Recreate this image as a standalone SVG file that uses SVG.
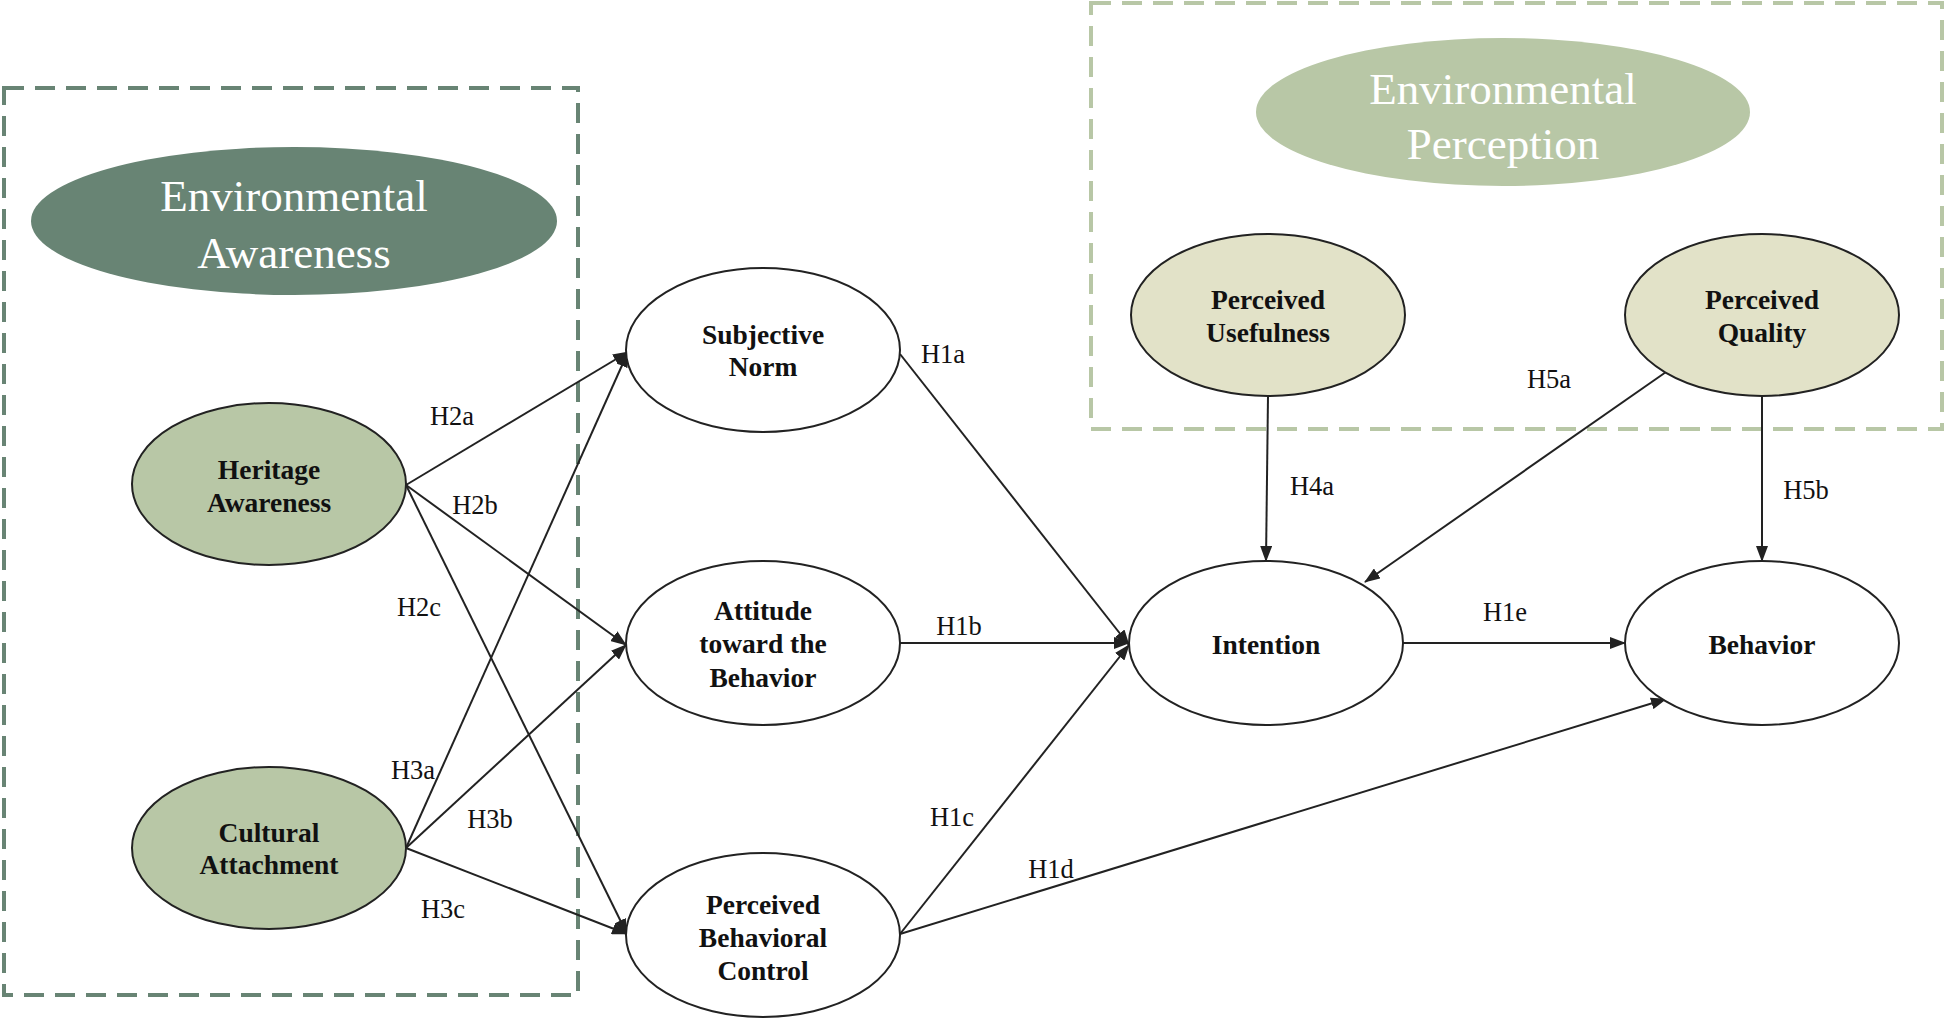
<svg xmlns="http://www.w3.org/2000/svg" width="1946" height="1020" viewBox="0 0 1946 1020">
<defs>
<marker id="arr" markerUnits="userSpaceOnUse" markerWidth="16" markerHeight="12" refX="15" refY="6" orient="auto">
<path d="M0,0 L16,6 L0,12 z" fill="#222"/>
</marker>
<style>
.node{fill:#fff;stroke:#222;stroke-width:2}
.green{fill:#b8c7a6;stroke:#222;stroke-width:2}
.beige{fill:#e2e2c8;stroke:#222;stroke-width:2}
.nt{font-family:"Liberation Serif","Times New Roman",serif;font-weight:bold;font-size:27.5px;fill:#111;text-anchor:middle}
.big{font-family:"Liberation Serif","Times New Roman",serif;font-size:45px;fill:#fff;text-anchor:middle}
.lbl{font-family:"Liberation Serif","Times New Roman",serif;font-size:26.5px;fill:#111;text-anchor:middle}
.conn line{stroke:#222;stroke-width:2;marker-end:url(#arr)}
.box{fill:none;stroke-width:4;stroke-dasharray:20 11}
</style>
</defs>
<rect width="1946" height="1020" fill="#fff"/>
<g id="awareness-group">
<rect class="box" x="4" y="88" width="574" height="907" stroke="#688474"/>
<ellipse cx="294" cy="221" rx="263" ry="74" fill="#688474"/>
<text class="big" x="294" y="211">Environmental</text>
<text class="big" x="294" y="268">Awareness</text>
</g>
<g id="perception-group">
<rect class="box" x="1091" y="3" width="851" height="426" stroke="#b8c7a6"/>
<ellipse cx="1503" cy="112" rx="247" ry="74" fill="#b8c7a6"/>
<text class="big" x="1503" y="104">Environmental</text>
<text class="big" x="1503" y="159">Perception</text>
</g>
<g id="connectors" class="conn">
<line x1="406" y1="485" x2="628" y2="352"/>
<line x1="406" y1="485" x2="626" y2="645"/>
<line x1="406" y1="485" x2="627" y2="934"/>
<line x1="406" y1="848" x2="628" y2="352"/>
<line x1="406" y1="848" x2="626" y2="645"/>
<line x1="406" y1="848" x2="627" y2="934"/>
<line x1="900" y1="354" x2="1129" y2="645"/>
<line x1="900" y1="643" x2="1129" y2="643"/>
<line x1="900" y1="934" x2="1129" y2="645"/>
<line x1="900" y1="934" x2="1666" y2="699"/>
<line x1="1403" y1="643" x2="1625" y2="643"/>
<line x1="1268" y1="396" x2="1266" y2="561"/>
<line x1="1666" y1="372" x2="1365" y2="582"/>
<line x1="1762" y1="396" x2="1762" y2="561"/>
</g>
<g id="labels">
<text class="lbl" x="452" y="425">H2a</text>
<text class="lbl" x="475" y="514">H2b</text>
<text class="lbl" x="419" y="616">H2c</text>
<text class="lbl" x="413" y="779">H3a</text>
<text class="lbl" x="490" y="828">H3b</text>
<text class="lbl" x="443" y="918">H3c</text>
<text class="lbl" x="943" y="363">H1a</text>
<text class="lbl" x="959" y="635">H1b</text>
<text class="lbl" x="952" y="826">H1c</text>
<text class="lbl" x="1051" y="878">H1d</text>
<text class="lbl" x="1505" y="621">H1e</text>
<text class="lbl" x="1312" y="495">H4a</text>
<text class="lbl" x="1549" y="388">H5a</text>
<text class="lbl" x="1806" y="499">H5b</text>
</g>
<g id="heritage-awareness">
<ellipse class="green" cx="269" cy="484" rx="137" ry="81"/>
<text class="nt" x="269" y="479">Heritage</text>
<text class="nt" x="269" y="512">Awareness</text>
</g>
<g id="cultural-attachment">
<ellipse class="green" cx="269" cy="848" rx="137" ry="81"/>
<text class="nt" x="269" y="842">Cultural</text>
<text class="nt" x="269" y="874">Attachment</text>
</g>
<g id="subjective-norm">
<ellipse class="node" cx="763" cy="350" rx="137" ry="82"/>
<text class="nt" x="763" y="344">Subjective</text>
<text class="nt" x="763" y="376">Norm</text>
</g>
<g id="attitude">
<ellipse class="node" cx="763" cy="643" rx="137" ry="82"/>
<text class="nt" x="763" y="620">Attitude</text>
<text class="nt" x="763" y="653">toward the</text>
<text class="nt" x="763" y="687">Behavior</text>
</g>
<g id="pbc">
<ellipse class="node" cx="763" cy="935" rx="137" ry="82"/>
<text class="nt" x="763" y="914">Perceived</text>
<text class="nt" x="763" y="947">Behavioral</text>
<text class="nt" x="763" y="980">Control</text>
</g>
<g id="intention">
<ellipse class="node" cx="1266" cy="643" rx="137" ry="82"/>
<text class="nt" x="1266" y="654">Intention</text>
</g>
<g id="behavior">
<ellipse class="node" cx="1762" cy="643" rx="137" ry="82"/>
<text class="nt" x="1762" y="654">Behavior</text>
</g>
<g id="perceived-usefulness">
<ellipse class="beige" cx="1268" cy="315" rx="137" ry="81"/>
<text class="nt" x="1268" y="309">Perceived</text>
<text class="nt" x="1268" y="342">Usefulness</text>
</g>
<g id="perceived-quality">
<ellipse class="beige" cx="1762" cy="315" rx="137" ry="81"/>
<text class="nt" x="1762" y="309">Perceived</text>
<text class="nt" x="1762" y="342">Quality</text>
</g>
</svg>
